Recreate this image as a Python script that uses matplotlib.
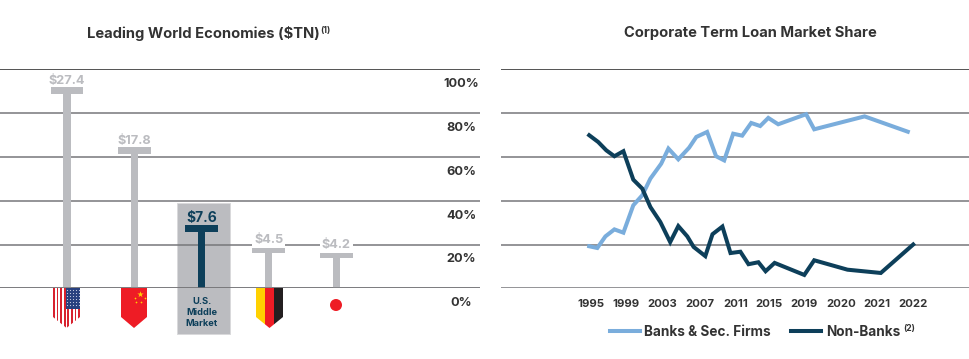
import numpy as np
import matplotlib
matplotlib.use("Agg")
import matplotlib.pyplot as plt
from matplotlib.patches import Polygon, Rectangle, Circle

plt.rcParams["font.family"] = ["Inter", "DejaVu Sans"]

# left chart
countries = ["USA", "China", "U.S.\nMiddle\nMarket", "Germany", "Japan"]
gdp_labels = ["$27.4", "$17.8", "$7.6", "$4.5", "$4.2"]
# bar heights as drawn, read against the gridlines (not to scale with the $ labels)
gdp_heights = [91.8, 64.4, 28.8, 19.2, 16.9]

# right chart
pct_ticks = [0, 20, 40, 60, 80, 100]
pct_labels = ["0%", "20%", "40%", "60%", "80%", "100%"]
year_labels = ["1995", "1999", "2003", "2007", "2011", "2015", "2019", "2020", "2021", "2022"]
year_pos = [1995.2, 1999.1, 2003.1, 2007.3, 2011.3, 2015.0, 2018.9, 2023.0, 2027.0, 2031.0]

banks_pos = [1995.0, 1995.9, 1996.8, 1997.8, 1998.8, 1999.9, 2000.9, 2001.8, 2003.0, 2003.8,
             2004.9, 2006.1, 2006.9, 2008.1, 2009.1, 2010.0, 2011.0, 2012.0, 2013.0, 2014.0,
             2014.9, 2016.0, 2019.1, 2020.0, 2025.6, 2030.4]
banks_share = [19.2, 18.4, 23.7, 26.9, 25.4, 37.9, 42.5, 50.1, 56.9, 63.8,
               58.9, 64.2, 69.1, 71.4, 60.3, 58.4, 70.6, 69.7, 75.5, 74.1,
               77.8, 74.9, 79.5, 72.6, 78.5, 71.5]

nonbanks_pos = [1995.0, 1996.0, 1996.9, 1997.8, 1998.8, 1999.9, 2000.9, 2001.8, 2002.9, 2004.0,
                2004.9, 2005.9, 2006.6, 2007.9, 2008.7, 2009.8, 2010.7, 2011.8, 2012.7, 2013.8,
                2014.6, 2015.6, 2018.9, 2020.0, 2023.7, 2027.4, 2031.0]
nonbanks_share = [69.9, 66.8, 63.0, 60.3, 62.6, 49.6, 45.5, 37.1, 30.3, 21.1,
                  28.4, 23.7, 18.9, 14.7, 24.7, 28.2, 16.1, 16.7, 11.0, 11.9,
                  7.8, 11.6, 6.1, 12.8, 8.5, 7.0, 20.0]

GREY = "#bbbcc0"
NAVY = "#0d3f5a"
BLUE = "#7aaddc"
DARK = "#333333"
GRID = "#77777a"
W, H = 969, 359


def pennant(deco, x0, x1):
	# flag outline: flat top on the baseline, point at the bottom
	return Polygon([(x0, 288), (x1, 288), (x1, 317), ((x0 + x1) / 2, 328), (x0, 317)],
		closed=True, transform=deco.transData, fc="none", ec="none")


def drawFlags(deco):
	# USA
	clip = pennant(deco, 53, 80)
	deco.add_patch(clip)
	for sx in np.arange(53, 80, 3.6):
		r = Rectangle((sx, 288), 1.8, 40, fc="#d8222f", ec="none")
		deco.add_patch(r)
		r.set_clip_path(clip)
	deco.add_patch(Rectangle((66, 288), 14, 21, fc="#27407f", ec="none"))
	sx, sy = np.meshgrid(np.arange(67.5, 80, 2.8), np.arange(290, 308, 3.0))
	deco.scatter(sx.ravel(), sy.ravel(), s=0.7, c="#c9d0e4", linewidths=0)

	# China
	clip = pennant(deco, 121, 147)
	clip.set_facecolor("#ee1c25")
	deco.add_patch(clip)
	deco.scatter([140], [294], s=22, c="#ffd200", marker="*", linewidths=0)
	deco.scatter([135, 136, 141, 145], [298, 302, 302, 298], s=1.5, c="#ffd200", linewidths=0)

	# Germany
	clip = pennant(deco, 256, 283)
	deco.add_patch(clip)
	for sx, col in zip([256, 265, 274], ["#ffd100", "#ee1c25", "#231f20"]):
		r = Rectangle((sx, 288), 9, 40, fc=col, ec="none")
		deco.add_patch(r)
		r.set_clip_path(clip)

	# Japan
	deco.add_patch(Circle((336, 305), 6, fc="#ee1c25", ec="none"))


def main():
	fig = plt.figure(figsize=(W / 100, H / 100), dpi=100)

	# overlay in pixel units for the box and the flags, below the charts
	deco = fig.add_axes([0, 0, 1, 1], zorder=0)
	deco.set_xlim(0, W)
	deco.set_ylim(H, 0)
	deco.axis("off")
	deco.add_patch(Rectangle((177, 203), 53, 131, fc=GREY, ec="#d9d9db", lw=0.7))
	drawFlags(deco)

	bottom = (H - 288.3) / H
	ht = 219 / H
	ax = fig.add_axes([0, bottom, 480 / W, ht], zorder=1)
	ax.patch.set_alpha(0)
	ax.set_xlim(-0.996, 6.14)
	ax.set_ylim(0, 100)

	ax2 = fig.add_axes([501 / W, bottom, 468 / W, ht], zorder=1)
	ax2.patch.set_alpha(0)
	ax2.set_xlim(1985.2, 2037.2)
	ax2.set_ylim(0, 100)

	for a in (ax, ax2):
		for s in a.spines.values():
			s.set_visible(False)
		a.set_yticks(pct_ticks)
		a.set_yticklabels([])
		a.tick_params(length=0)
		a.grid(axis="y", color=GRID, lw=1.1)
		a.set_axisbelow(True)
		a.axhline(100, color="#444444", lw=1.1, zorder=1)

	# left: T shaped bars
	xs = np.arange(len(countries))
	cols = [GREY, GREY, NAVY, GREY, GREY]
	ax.bar(xs, gdp_heights, width=0.105, color=cols, zorder=2)
	ax.bar(xs, [3.2] * len(xs), bottom=np.array(gdp_heights) - 3.2, width=0.49, color=cols, zorder=2)
	ax.axhline(0, color=GRID, lw=1.1, zorder=3)
	ax.set_xticks([])

	for i, lab in enumerate(gdp_labels):
		c = NAVY if i == 2 else GREY
		fs = 10 if i == 2 else 9.2
		box = dict(fc="white", ec="none", pad=1.5) if i > 2 else None
		ax.annotate(lab, (xs[i], gdp_heights[i]), xytext=(0, 0.5), textcoords="offset points",
			ha="center", va="bottom", fontsize=fs, fontweight="bold", color=c, bbox=box, zorder=4)

	ax.annotate(countries[2], (xs[2], 0), xytext=(0, -6.5), textcoords="offset points",
		ha="center", va="top", fontsize=6.7, fontweight="bold", color=NAVY, linespacing=1.25, zorder=4)

	# percent labels sit in the gap, a bit under their gridlines
	for v, lab in zip(pct_ticks, pct_labels):
		ax.annotate(lab, (5.86, v), xytext=(0, -10.8), textcoords="offset points",
			ha="center", va="center", fontsize=9.2, fontweight="bold", color=DARK, zorder=4)

	# right: market share lines
	ax2.plot(banks_pos, banks_share, color=BLUE, lw=2.9, solid_joinstyle="miter", zorder=2, label="Banks & Sec. Firms")
	ax2.plot(nonbanks_pos, nonbanks_share, color=NAVY, lw=2.9, solid_joinstyle="miter", zorder=3, label="Non-Banks")
	ax2.set_xticks(year_pos)
	ax2.set_xticklabels(year_labels, fontsize=8.2, fontweight="bold", color=DARK)
	ax2.tick_params(axis="x", pad=8)

	ax2.legend(loc="center left", bbox_to_anchor=(0.232, -0.2), ncol=2, frameon=False,
		prop=dict(size=9.8, weight="bold"), handlelength=2.2, handletextpad=0.36, columnspacing=1.5,
		borderpad=0, borderaxespad=0, labelcolor=DARK)

	# titles and footnote marks
	deco.text(87, 33.5, "Leading World Economies ($TN)", ha="left", va="center", fontsize=10.6, fontweight="bold", color=DARK)
	deco.text(320.5, 30.5, "(1)", ha="left", va="center", fontsize=6.2, fontweight="bold", color=DARK)
	deco.text(750.5, 33.5, "Corporate Term Loan Market Share", ha="center", va="center", fontsize=10.6, fontweight="bold", color=DARK)
	deco.text(903.5, 328.5, "(2)", ha="left", va="center", fontsize=6.2, fontweight="bold", color=DARK)

	fig.savefig("out.png", dpi=100)


if __name__ == "__main__":
	main()
